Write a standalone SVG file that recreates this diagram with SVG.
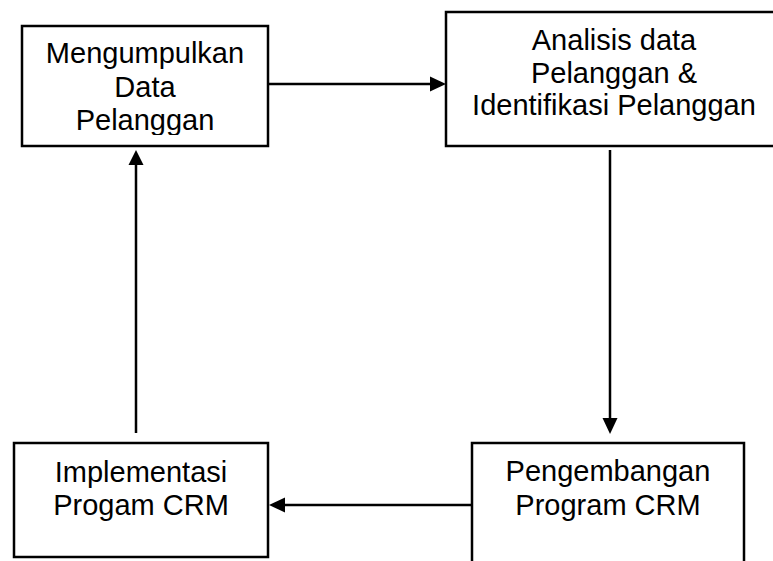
<svg xmlns="http://www.w3.org/2000/svg" width="773" height="561" viewBox="0 0 773 561">
<style>
.box{fill:#fff;stroke:#000;stroke-width:2.5}
.lbl{font-family:"Liberation Sans",Arial,sans-serif;font-size:29px;fill:#000;text-anchor:middle}
.con{stroke:#000;stroke-width:2.5;fill:none}
.head{fill:#000;stroke:none}
</style>
<defs>
<clipPath id="clip1"><rect x="22" y="26" width="246" height="109"/></clipPath>
</defs>
<rect width="773" height="561" fill="#fff"/>
<g id="node-mengumpulkan">
<rect class="box" x="22" y="26" width="246" height="120"/>
<g clip-path="url(#clip1)">
<text class="lbl" x="145" y="63">Mengumpulkan</text>
<text class="lbl" x="145" y="96.5">Data</text>
<text class="lbl" x="145" y="130">Pelanggan</text>
</g>
</g>
<g id="node-analisis">
<rect class="box" x="446" y="12" width="360" height="134"/>
<text class="lbl" x="614" y="50">Analisis data</text>
<text class="lbl" x="614" y="83">Pelanggan &amp;</text>
<text class="lbl" x="614" y="115">Identifikasi Pelanggan</text>
</g>
<g id="node-pengembangan">
<rect class="box" x="472" y="443" width="272" height="160"/>
<text class="lbl" x="608" y="481">Pengembangan</text>
<text class="lbl" x="608" y="514.5">Program CRM</text>
</g>
<g id="node-implementasi">
<rect class="box" x="14" y="443" width="254" height="114"/>
<text class="lbl" x="141" y="481.5">Implementasi</text>
<text class="lbl" x="141" y="515">Progam CRM</text>
</g>
<g id="connectors">
<line class="con" x1="268" y1="84" x2="431" y2="84"/>
<polygon class="head" points="446,84 430,76.5 430,91.5"/>
<line class="con" x1="610" y1="150" x2="610" y2="419"/>
<polygon class="head" points="610,434 602.5,418 617.5,418"/>
<line class="con" x1="472" y1="505" x2="284" y2="505"/>
<polygon class="head" points="269,505 285,497.5 285,512.5"/>
<line class="con" x1="136" y1="433" x2="136" y2="164"/>
<polygon class="head" points="136,150 128.5,165 143.5,165"/>
</g>
</svg>
